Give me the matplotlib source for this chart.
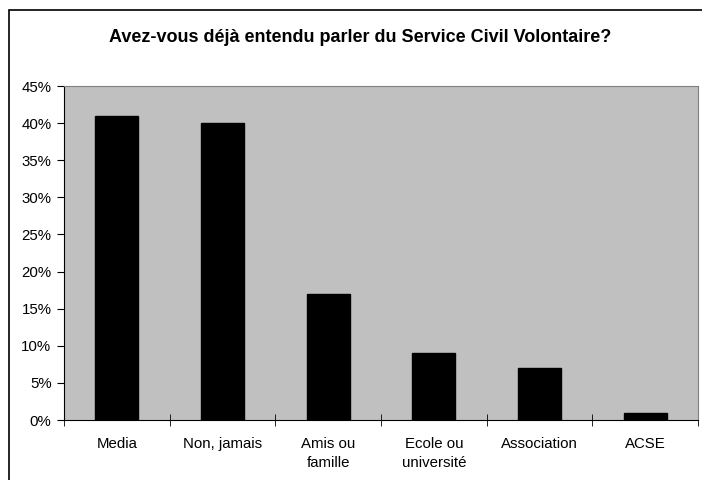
import numpy as np
import matplotlib
matplotlib.use('Agg')
import matplotlib.pyplot as plt
from matplotlib.patches import Rectangle

plt.rcParams['font.family'] = ['Liberation Sans', 'DejaVu Sans']

categories = ['Media', 'Non, jamais', 'Amis ou\nfamille', 'Ecole ou\nuniversité', 'Association', 'ACSE']
values = [41, 40, 17, 9, 7, 1]
yticks = [0, 5, 10, 15, 20, 25, 30, 35, 40, 45]

fig = plt.figure(figsize=(7.02, 4.8), dpi=100)
ax = fig.add_axes([64 / 702, 60 / 480, 634 / 702, 334 / 480])

# outer chart border (right and bottom cut off)
fig.patches.append(Rectangle((9 / 702, -0.05), 1.0, 1 - 10 / 480 + 0.05,
                             transform=fig.transFigure, fill=False,
                             edgecolor='black', linewidth=1.2))

x = np.arange(len(categories))
ax.bar(x, values, width=0.41, color='black', edgecolor='black')
ax.set_facecolor('#c0c0c0')
ax.set_xlim(-0.5, len(categories) - 0.5)
ax.set_ylim(0, 45)
ax.set_yticks(yticks)
ax.set_yticklabels(['%d%%' % v for v in yticks], fontsize=10.8)
ax.set_xticks(x)
ax.set_xticklabels(categories, fontsize=10.8, linespacing=1.45)
ax.tick_params(axis='x', length=0, pad=12)
ax.set_xticks(np.arange(-0.5, len(categories)), minor=True)
ax.tick_params(axis='x', which='minor', direction='inout', length=8)
ax.tick_params(axis='y', direction='out', length=5, pad=4)

for s in ['top', 'right']:
    ax.spines[s].set_color('#808080')
for s in ['left', 'bottom']:
    ax.spines[s].set_color('black')

fig.text(360 / 702, 1 - 37 / 480, 'Avez-vous déjà entendu parler du Service Civil Volontaire?',
         ha='center', va='center', fontsize=13, fontweight='bold')

fig.savefig('out.png', dpi=100)
